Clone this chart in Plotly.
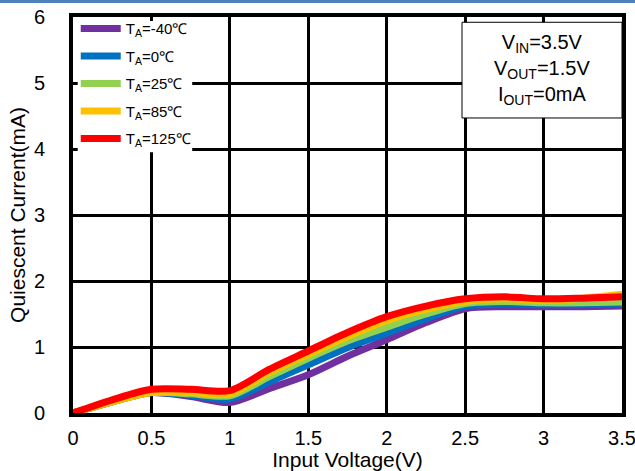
import plotly.graph_objects as go

# Input voltage sweep (V)
vin = [0, 0.25, 0.5, 0.75, 1.0, 1.25, 1.5, 1.75, 2.0, 2.25, 2.5, 2.75, 3.0, 3.25, 3.5]

# Quiescent current (mA) per ambient temperature
iq_m40 = [0, 0.17, 0.31, 0.25, 0.16, 0.37, 0.58, 0.86, 1.11, 1.37, 1.58, 1.61, 1.61, 1.61, 1.62]
iq_0 = [0, 0.17, 0.31, 0.27, 0.21, 0.47, 0.73, 0.99, 1.21, 1.43, 1.62, 1.65, 1.64, 1.64, 1.65]
iq_25 = [0, 0.17, 0.31, 0.29, 0.26, 0.55, 0.83, 1.09, 1.30, 1.50, 1.66, 1.69, 1.67, 1.67, 1.68]
iq_85 = [0, 0.17, 0.31, 0.31, 0.29, 0.61, 0.89, 1.16, 1.40, 1.57, 1.69, 1.73, 1.71, 1.74, 1.80]
iq_125 = [0, 0.20, 0.36, 0.36, 0.34, 0.66, 0.94, 1.22, 1.46, 1.62, 1.73, 1.76, 1.73, 1.74, 1.76]

series = [
    ("T<sub>A</sub>=-40℃", iq_m40, "#7030A0"),
    ("T<sub>A</sub>=0℃", iq_0, "#0070C0"),
    ("T<sub>A</sub>=25℃", iq_25, "#92D050"),
    ("T<sub>A</sub>=85℃", iq_85, "#FFC000"),
    ("T<sub>A</sub>=125℃", iq_125, "#FF0000"),
]

x_ticks = [0, 0.5, 1, 1.5, 2, 2.5, 3, 3.5]
x_tick_text = ["0", "0.5", "1", "1.5", "2", "2.5", "3", "3.5"]
y_ticks = [0, 1, 2, 3, 4, 5, 6]

FONT = "Liberation Sans, Arial, sans-serif"

fig = go.Figure()
for i, (name, vals, color) in enumerate(series):
    fig.add_trace(go.Scatter(
        x=vin, y=vals, name=name, mode="lines",
        line=dict(color=color, width=7, shape="spline", smoothing=0.8),
        legendgroup=f"g{i}",
    ))

axis_common = dict(
    showline=True, linecolor="black", linewidth=4, mirror=True,
    showgrid=True, gridcolor="black", gridwidth=2.5,
    zeroline=False, ticks="", automargin=False, ticklabeloverflow="allow",
    tickfont=dict(family=FONT, size=20, color="black"),
)

fig.update_xaxes(
    range=[0, 3.5], tickvals=x_ticks, ticktext=x_tick_text,
    title=dict(text="Input Voltage(V)", font=dict(family=FONT, size=21, color="black"), standoff=0),
    ticklabelstandoff=4,
    **axis_common,
)
fig.update_yaxes(
    range=[0, 6], tickvals=y_ticks,
    title=dict(text="Quiescent Current(mA)", font=dict(family=FONT, size=21, color="black"), standoff=4),
    ticklabelstandoff=20,
    **axis_common,
)

# White panel behind the legend, hiding the grid there
fig.add_shape(type="rect", xref="x", yref="y", x0=0.03, x1=0.76, y0=3.95, y1=5.94,
              fillcolor="white", line=dict(width=0), layer="above")

# Test-condition box in the upper right corner
fig.add_shape(type="rect", xref="x", yref="y", x0=2.48, x1=3.5, y0=4.47, y1=5.92,
              fillcolor="white", line=dict(color="black", width=1), layer="above")
fig.add_annotation(
    x=2.99, y=5.2, xref="x", yref="y", showarrow=False,
    text="V<sub>IN</sub>=3.5V<br>V<sub>OUT</sub>=1.5V<br>I<sub>OUT</sub>=0mA",
    font=dict(family=FONT, size=20, color="black"), align="center",
)

# Thin blue rule along the top edge of the page
fig.add_shape(type="rect", xref="paper", yref="paper",
              x0=-73 / 549, x1=(635 - 73) / 549, y0=1 + 14 / 396, y1=1 + 17 / 396,
              fillcolor="#4F81BD", line=dict(width=0), layer="above")

fig.update_layout(
    width=635, height=471,
    margin=dict(l=73, r=13, t=17, b=58, autoexpand=False),
    paper_bgcolor="white", plot_bgcolor="white",
    font=dict(family=FONT, color="black"),
    legend=dict(
        x=0.005, y=1.012, xanchor="left", yanchor="top",
        bgcolor="rgba(0,0,0,0)", borderwidth=0,
        font=dict(family=FONT, size=15, color="black"),
        tracegroupgap=5, itemwidth=40,
    ),
    showlegend=True,
)

fig.write_html("out.html")
